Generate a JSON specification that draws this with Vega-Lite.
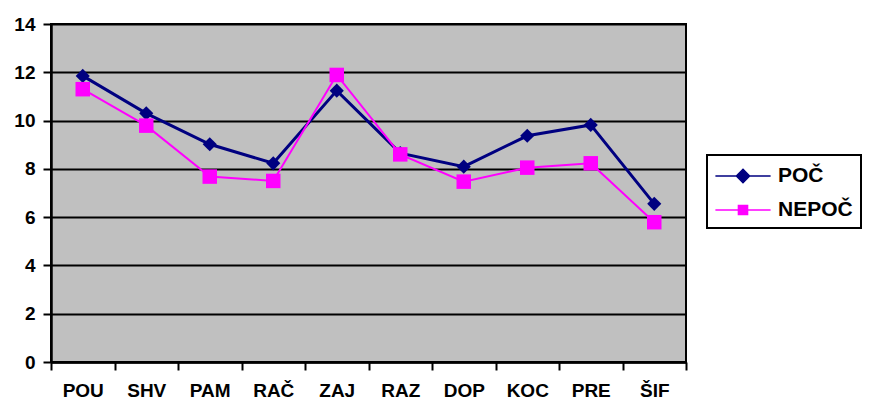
{
  "$schema": "https://vega.github.io/schema/vega-lite/v6.json",
  "autosize": "none",
  "width": 635,
  "height": 338,
  "padding": {"left": 51, "top": 24, "right": 189, "bottom": 39},
  "background": "white",
  "config": {
    "view": {"fill": "#C0C0C0", "stroke": "black", "strokeWidth": 2},
    "font": "Liberation Sans"
  },
  "data": {
    "values": [
      {"cat": "POU", "series": "POČ", "value": 11.85},
      {"cat": "SHV", "series": "POČ", "value": 10.3},
      {"cat": "PAM", "series": "POČ", "value": 9.02},
      {"cat": "RAČ", "series": "POČ", "value": 8.23},
      {"cat": "ZAJ", "series": "POČ", "value": 11.24},
      {"cat": "RAZ", "series": "POČ", "value": 8.65},
      {"cat": "DOP", "series": "POČ", "value": 8.09},
      {"cat": "KOC", "series": "POČ", "value": 9.37},
      {"cat": "PRE", "series": "POČ", "value": 9.82},
      {"cat": "ŠIF", "series": "POČ", "value": 6.55},
      {"cat": "POU", "series": "NEPOČ", "value": 11.3},
      {"cat": "SHV", "series": "NEPOČ", "value": 9.79},
      {"cat": "PAM", "series": "NEPOČ", "value": 7.68},
      {"cat": "RAČ", "series": "NEPOČ", "value": 7.5},
      {"cat": "ZAJ", "series": "NEPOČ", "value": 11.89},
      {"cat": "RAZ", "series": "NEPOČ", "value": 8.6},
      {"cat": "DOP", "series": "NEPOČ", "value": 7.47},
      {"cat": "KOC", "series": "NEPOČ", "value": 8.05},
      {"cat": "PRE", "series": "NEPOČ", "value": 8.23},
      {"cat": "ŠIF", "series": "NEPOČ", "value": 5.79}
    ]
  },
  "encoding": {
    "x": {
      "field": "cat",
      "type": "nominal",
      "sort": null,
      "scale": {"type": "band", "paddingInner": 0, "paddingOuter": 0},
      "axis": {
        "title": null,
        "labelAngle": 0,
        "labelFont": "Liberation Sans",
        "labelFontSize": 19,
        "labelFontWeight": "bold",
        "labelColor": "black",
        "labelPadding": 11,
        "tickBand": "extent",
        "tickSize": 8,
        "tickWidth": 2,
        "tickColor": "black",
        "domainColor": "black",
        "domainWidth": 2.5,
        "grid": false
      }
    },
    "y": {
      "field": "value",
      "type": "quantitative",
      "scale": {"domain": [0, 14], "nice": false},
      "axis": {
        "title": null,
        "values": [0, 2, 4, 6, 8, 10, 12, 14],
        "labelFont": "Liberation Sans",
        "labelFontSize": 19,
        "labelFontWeight": "bold",
        "labelColor": "black",
        "labelPadding": 8,
        "tickSize": 8,
        "tickWidth": 2,
        "tickColor": "black",
        "domainColor": "black",
        "domainWidth": 2.5,
        "grid": true,
        "gridColor": "black",
        "gridWidth": 2,
        "gridOpacity": 1
      }
    },
    "color": {
      "field": "series",
      "type": "nominal",
      "scale": {"domain": ["POČ", "NEPOČ"], "range": ["#000080", "#FF00FF"]},
      "legend": null
    }
  },
  "layer": [
    {
      "transform": [{"filter": "datum.series === 'POČ'"}],
      "mark": {"type": "line", "strokeWidth": 3},
      "encoding": {
        "color": {
          "field": "series",
          "type": "nominal",
          "legend": {
            "title": null,
            "orient": "none",
            "legendX": 656,
            "legendY": 131,
            "padding": 8,
            "strokeColor": "black",
            "fillColor": "white",
            "symbolSize": 576,
            "symbolOffset": 15,
            "labelOffset": 22,
            "rowPadding": 11,
            "labelFont": "Liberation Sans",
            "labelFontSize": 21,
            "labelFontWeight": "bold",
            "labelColor": "black",
            "labelBaseline": "middle",
            "encode": {
              "legend": {
                "update": {
                  "strokeWidth": {"value": 2}
                }
              },
              "symbols": {
                "update": {
                  "shape": {"signal": "datum.value === 'POČ' ? 'M-2.3,0H2.3M0,-0.55L0.55,0L0,0.55L-0.55,0Z' : 'M-2.3,0H2.3M-0.38,-0.38H0.38V0.38H-0.38Z'"},
                  "fill": {"scale": "color", "field": "value"},
                  "stroke": {"scale": "color", "field": "value"},
                  "strokeWidth": {"value": 1.5},
                  "size": {"value": 576},
                  "opacity": {"value": 1},
                  "fillOpacity": {"value": 1}
                }
              }
            }
          }
        }
      }
    },
    {
      "transform": [{"filter": "datum.series === 'POČ'"}],
      "mark": {"type": "point", "shape": "diamond", "filled": true, "size": 200, "opacity": 1}
    },
    {
      "transform": [{"filter": "datum.series === 'NEPOČ'"}],
      "mark": {"type": "line", "strokeWidth": 2}
    },
    {
      "transform": [{"filter": "datum.series === 'NEPOČ'"}],
      "mark": {"type": "point", "shape": "square", "filled": true, "size": 210, "opacity": 1}
    }
  ]
}
